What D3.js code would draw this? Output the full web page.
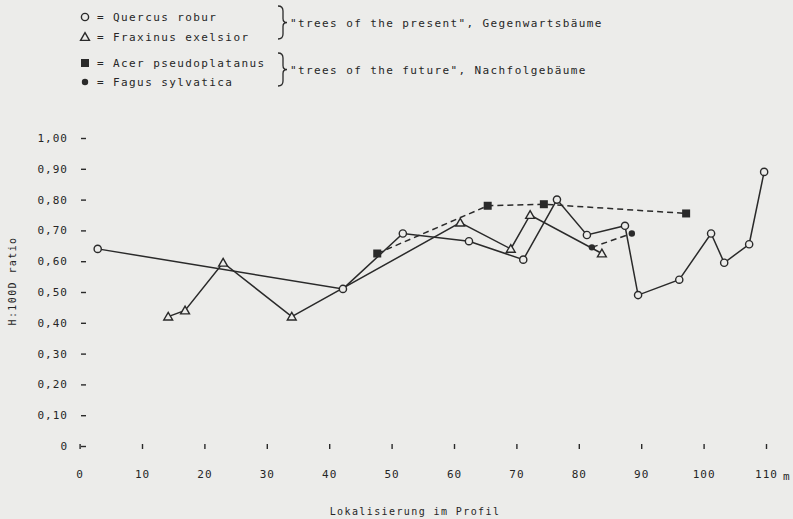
<!DOCTYPE html>
<html>
<head>
<meta charset="utf-8">
<script src="https://cdn.jsdelivr.net/npm/d3@7"></script>
<style>
  body { margin: 0; background: #ececea; }
  svg text { font-family: "DejaVu Sans Mono", "Liberation Mono", monospace; fill: #262626; }
</style>
</head>
<body>
<svg id="chart" width="793" height="519"></svg>
<script>
// Werte (Lage in m, H:100D)
const quercusX = [2.9, 42.2, 51.8, 62.4, 71.1, 76.5, 81.3, 87.4, 89.5, 96.1, 101.2, 103.3, 107.3, 109.7];
const quercusY = [0.64, 0.51, 0.69, 0.665, 0.605, 0.80, 0.685, 0.715, 0.49, 0.54, 0.69, 0.595, 0.655, 0.89];
const fraxinusX = [14.2, 16.9, 23.0, 34.0, 61.0, 69.1, 72.2, 83.7];
const fraxinusY = [0.42, 0.44, 0.595, 0.42, 0.725, 0.64, 0.75, 0.625];
const acerX = [47.7, 65.4, 74.4, 97.2];
const acerY = [0.625, 0.78, 0.785, 0.755];
const fagusX = [82.1, 88.5];
const fagusY = [0.645, 0.69];

const xTicks = [0, 10, 20, 30, 40, 50, 60, 70, 80, 90, 100, 110];
const yTicks = [0, 0.1, 0.2, 0.3, 0.4, 0.5, 0.6, 0.7, 0.8, 0.9, 1.0];

const legendNames = ["Quercus robur", "Fraxinus exelsior", "Acer pseudoplatanus", "Fagus sylvatica"];
const groupNames = ['"trees of the present", Gegenwartsbäume', '"trees of the future", Nachfolgebäume'];

const ink = "#2a2a2a";
const svg = d3.select("#chart");

const x = d3.scaleLinear().domain([0, 110]).range([79.6, 766]);
const y = d3.scaleLinear().domain([0, 1]).range([446, 138]);

// achsen
const yAxis = svg.append("g")
  .attr("transform", "translate(86,0)")
  .call(d3.axisLeft(y).tickValues(yTicks).tickSize(5).tickPadding(13)
    .tickFormat(d => d === 0 ? "0" : d3.format(".2f")(d).replace(".", ",")));
yAxis.select(".domain").remove();
yAxis.selectAll("line").attr("stroke", ink).attr("stroke-width", 1.4);
yAxis.selectAll("text").style("font-size", "11px").style("letter-spacing", "1px");

const xAxis = svg.append("g")
  .attr("transform", "translate(0,444)")
  .call(d3.axisBottom(x).tickValues(xTicks).tickSize(5).tickPadding(21));
xAxis.select(".domain").remove();
xAxis.selectAll("line").attr("stroke", ink).attr("stroke-width", 1.4);
xAxis.selectAll("text").style("font-size", "11px").style("letter-spacing", "1px");

svg.append("text").attr("x", 783).attr("y", 480)
  .style("font-size", "11px").text("m");

svg.append("text")
  .attr("x", 415).attr("y", 515)
  .attr("text-anchor", "middle")
  .style("font-size", "10px").style("letter-spacing", "1.4px")
  .text("Lokalisierung im Profil");

svg.append("text")
  .attr("transform", "translate(16,281) rotate(-90)")
  .attr("text-anchor", "middle")
  .style("font-size", "10px").style("letter-spacing", "1.4px")
  .text("H:100D ratio");

// linien
const line = d3.line().x(d => x(d[0])).y(d => y(d[1]));
const zipPts = (xs, ys) => xs.map((v, i) => [v, ys[i]]);

const series = [
  { pts: zipPts(quercusX, quercusY), dash: null, mark: "circle" },
  { pts: zipPts(fraxinusX, fraxinusY), dash: null, mark: "triangle" },
  { pts: zipPts(acerX, acerY), dash: "6,4", mark: "square" },
  { pts: zipPts(fagusX, fagusY), dash: "6,4", mark: "dot" }
];

series.forEach(s => {
  svg.append("path")
    .attr("d", line(s.pts))
    .attr("fill", "none")
    .attr("stroke", ink)
    .attr("stroke-width", 1.5)
    .attr("stroke-dasharray", s.dash);
});

const drawMark = (g, type, cx, cy) => {
  if (type === "circle") {
    g.append("circle").attr("cx", cx).attr("cy", cy).attr("r", 3.6)
      .attr("fill", "#ececea").attr("stroke", ink).attr("stroke-width", 1.4);
  } else if (type === "triangle") {
    g.append("path").attr("d", d3.symbol(d3.symbolTriangle, 34)())
      .attr("transform", `translate(${cx},${cy + 0.8})`)
      .attr("fill", "#ececea").attr("stroke", ink).attr("stroke-width", 1.4);
  } else if (type === "square") {
    g.append("rect").attr("x", cx - 4).attr("y", cy - 4).attr("width", 8).attr("height", 8)
      .attr("fill", ink);
  } else {
    g.append("circle").attr("cx", cx).attr("cy", cy).attr("r", 3.2).attr("fill", ink);
  }
};

const marks = svg.append("g");
series.forEach(s => {
  s.pts.forEach(p => drawMark(marks, s.mark, x(p[0]), y(p[1])));
});

// legende
const legendRows = [17, 37, 63, 82];
const legendMarks = ["circle", "triangle", "square", "dot"];
const legend = svg.append("g");
legendNames.forEach((name, i) => {
  drawMark(legend, legendMarks[i], 85, legendRows[i]);
  legend.append("text")
    .attr("x", 97).attr("y", legendRows[i] + 4)
    .style("font-size", "11px").style("letter-spacing", "1.4px")
    .text("= " + name);
});

const braces = [[6, 39], [53, 86]];
braces.forEach((b, i) => {
  const [t, bt] = b;
  const m = (t + bt) / 2;
  const bx = 278;
  legend.append("path")
    .attr("d", `M${bx},${t} Q${bx + 5},${t} ${bx + 5},${t + 5} L${bx + 5},${m - 4} Q${bx + 5},${m} ${bx + 9},${m} Q${bx + 5},${m} ${bx + 5},${m + 4} L${bx + 5},${bt - 5} Q${bx + 5},${bt} ${bx},${bt}`)
    .attr("fill", "none").attr("stroke", ink).attr("stroke-width", 1.3);
  legend.append("text")
    .attr("x", 290).attr("y", m + 4)
    .style("font-size", "11px").style("letter-spacing", "1.4px")
    .text(groupNames[i]);
});
</script>
</body>
</html>
